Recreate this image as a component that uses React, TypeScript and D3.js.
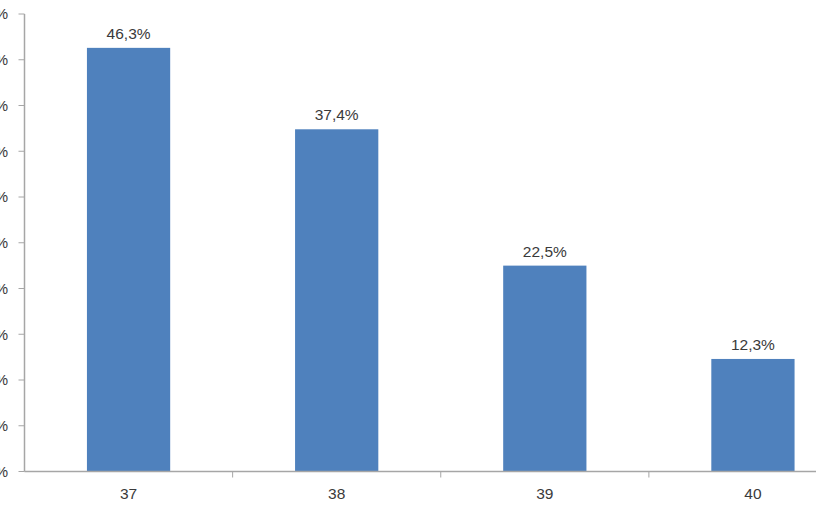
import React from "react";
import * as d3 from "d3";

const categories = ["37", "38", "39", "40"];
const values = [0.463, 0.374, 0.225, 0.123];
const valueLabels = ["46,3%", "37,4%", "22,5%", "12,3%"];
const yTicks = [0, 0.05, 0.1, 0.15, 0.2, 0.25, 0.3, 0.35, 0.4, 0.45, 0.5];
const yTickLabels = ["0%", "5%", "10%", "15%", "20%", "25%", "30%", "35%", "40%", "45%", "50%"];

export default function App() {
  const W = 816, H = 510;
  const x = d3.scaleBand<string>().domain(categories).range([24.5, 857]).paddingInner(0.6).paddingOuter(0.3);
  const y = d3.scaleLinear().domain([0, 0.5]).range([471.5, 14]);
  const step = x.step();
  const axisColor = "#a6a6a6";
  const font = "Arial, 'Liberation Sans', sans-serif";
  return (
    <svg width={W} height={H} style={{ position: "absolute", left: 0, top: 0, background: "#fff" }}>
      {yTicks.map((t, i) => (
        <g key={i}>
          <line x1={18.5} x2={24.5} y1={y(t)} y2={y(t)} stroke={axisColor} strokeWidth={1} />
          <text x={8} y={y(t)} dy="0.35em" textAnchor="end" fontFamily={font} fontSize={15} fill="#3a3a3a">{yTickLabels[i]}</text>
        </g>
      ))}
      {categories.map((c, i) => (
        <g key={c}>
          <rect x={x(c)} y={y(values[i])} width={x.bandwidth()} height={y(0) - y(values[i])} fill="#4F81BD" />
          <text x={(x(c) as number) + x.bandwidth() / 2} y={y(values[i]) - 9} textAnchor="middle" fontFamily={font} fontSize={15.5} fill="#3a3a3a">{valueLabels[i]}</text>
          <text x={(x(c) as number) + x.bandwidth() / 2} y={498.5} textAnchor="middle" fontFamily={font} fontSize={15.5} fill="#3a3a3a">{c}</text>
          {i > 0 && (
            <line x1={(x(c) as number) - (step - x.bandwidth()) / 2} x2={(x(c) as number) - (step - x.bandwidth()) / 2} y1={y(0)} y2={y(0) + 6} stroke={axisColor} strokeWidth={1} />
          )}
        </g>
      ))}
      <line x1={24.5} x2={24.5} y1={y(0.5)} y2={y(0)} stroke={axisColor} strokeWidth={1.5} />
      <line x1={24.5} x2={W} y1={y(0)} y2={y(0)} stroke={axisColor} strokeWidth={1.5} />
    </svg>
  );
}
